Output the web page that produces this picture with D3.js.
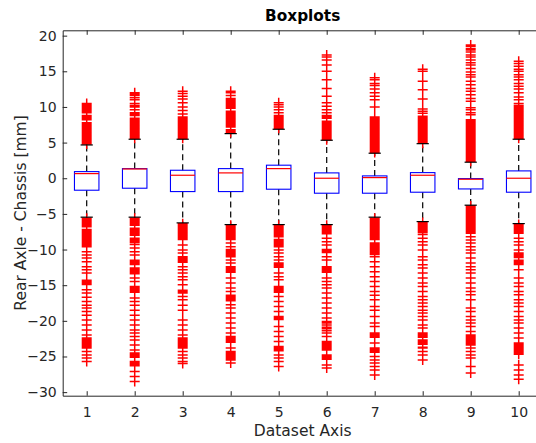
<!DOCTYPE html>
<html>
<head>
<meta charset="utf-8">
<script src="https://cdn.jsdelivr.net/npm/d3@7"></script>
<style>
  html, body { margin: 0; padding: 0; background: #fff; }
  svg { display: block; font-family: "DejaVu Sans", sans-serif; }
</style>
</head>
<body>
<svg id="chart" width="536" height="443"></svg>
<script>
// Dataset labels along the x axis
const categories = ["1", "2", "3", "4", "5", "6", "7", "8", "9", "10"];

// Box statistics per dataset (mm)
const q3 = [0.93, 1.35, 1.12, 1.35, 1.83, 0.75, 0.33, 0.79, -0.05, 1.03];
const medians = [0.65, 1.3, 0.42, 0.75, 1.35, 0.0, 0.09, 0.42, -0.14, 0.0];
const q1 = [-1.68, -1.40, -1.87, -1.87, -1.54, -2.10, -2.10, -1.96, -1.50, -1.96];
const whiskerHigh = [4.67, 5.47, 5.47, 6.26, 6.87, 5.33, 3.51, 4.85, 2.25, 5.47];
const whiskerLow = [-5.46, -5.46, -6.26, -6.50, -6.50, -6.50, -5.46, -6.08, -3.78, -6.36];

// Outliers above the upper whisker, one list per dataset
const outliersHigh = [
  [4.8,5,5.2,5.4,5.6,5.8,6,6.2,6.4,6.6,6.8,7,7.2,7.4,7.6,7.8,8.2,8.4,8.6,8.8,9.2,9.4,9.6,9.8,10,10.2,10.4,10.5],
  [5.6,5.8,6,6.2,6.4,6.6,6.8,7,7.2,7.4,7.6,7.8,8,8.2,8.4,8.8,9,9.2,9.6,10,10.2,10.5,11,11.3,11.6,11.8,12],
  [5.6,5.8,6,6.2,6.4,6.6,6.8,7,7.2,7.4,7.6,7.8,8,8.2,8.4,8.6,9,9.5,10,10.6,11.1,11.5,11.9,12.2],
  [6.4,6.6,6.8,7.2,7.4,7.6,7.8,8,8.2,8.4,8.6,8.8,9,9.2,9.4,9.8,10,10.2,10.4,10.6,10.8,11,11.2,11.6,12,12.2],
  [7,7.2,7.4,7.6,7.8,8,8.2,8.4,8.6,8.8,9.2,9.6,10,10.3,10.6],
  [5.4,5.6,5.8,6,6.2,6.4,6.6,6.8,7,7.2,7.4,7.6,7.8,8,8.4,8.6,8.8,9.2,9.6,10.1,10.6,11.5,12.6,13.8,15,15.9,16.6,17,17.3],
  [3.6,3.8,4,4.2,4.4,4.6,4.8,5,5.2,5.4,5.6,5.8,6,6.2,6.4,6.6,6.8,7,7.2,7.4,7.6,7.8,8,8.2,8.4,8.6,10,11,11.5,12,12.5,13,13.3,13.8,14.1],
  [4.9,5.1,5.3,5.5,5.7,5.9,6.1,6.3,6.5,6.7,6.9,7.1,7.3,7.5,7.7,7.9,8.1,8.3,8.5,8.7,9.1,9.4,9.7,11.1,12.4,13.6,15,15.3],
  [2.4,2.6,2.8,3,3.2,3.4,3.6,3.8,4,4.2,4.4,4.6,4.8,5,5.2,5.4,5.6,5.8,6,6.2,6.4,6.6,6.8,7,7.2,7.4,7.6,7.8,8,8.2,
   8.9,9.2,9.6,9.9,10.8,11.2,11.7,12.2,12.6,13.1,13.6,14.2,14.5,14.9,15.4,15.9,16.2,16.6,17,17.3,17.7,18,18.2,18.5,18.7],
  [5.6,5.8,6,6.2,6.4,6.6,6.8,7,7.2,7.4,7.6,7.8,8,8.2,8.4,8.6,8.8,9,9.2,9.4,9.6,9.8,10,10.2,
   10.5,11,11.4,12,12.5,12.9,13.3,13.8,14.2,14.5,15,15.3,15.7,16.1,16.4]
];

// Outliers below the lower whisker, one list per dataset
const outliersLow = [
  [-5.6,-5.8,-6,-6.2,-6.4,-6.6,-6.8,-7.2,-7.4,-7.6,-7.8,-8,-8.2,-8.4,-8.6,-8.8,-9,-9.2,-9.4,-9.6,
   -10.3,-10.75,-11.2,-11.7,-12.4,-12.85,-13.3,-14.3,-14.5,-14.7,-14.9,-15.65,-16.1,-16.7,-17.3,-17.8,-18.2,-18.7,-19.2,-19.9,-20.6,-21.3,-22,
   -22.4,-22.6,-22.8,-23,-23.2,-23.4,-23.6,-23.8,-24.3,-24.8,-25.2,-25.7],
  [-5.6,-5.8,-6,-6.2,-6.4,-6.6,-7,-7.2,-7.4,-7.6,-7.8,-8,-8.4,-8.6,-8.8,-9,-9.3,
   -9.8,-10.3,-10.75,-11.5,-11.7,-11.9,-12.1,-12.6,-12.8,-13,-13.2,-13.4,-14,-14.5,-15.2,-15.4,-15.6,-15.8,-16,
   -16.8,-17.3,-17.8,-18.5,-19.2,-19.9,-20.6,-21.3,-21.7,-22.2,-22.7,-23.4,-24.1,-24.5,-24.7,-24.9,-25.1,
   -25.7,-25.9,-26.1,-26.3,-27.1,-27.8,-28.5],
  [-6.4,-6.6,-6.8,-7,-7.2,-7.4,-7.6,-7.8,-8,-8.2,-8.4,-8.6,-9.35,-10.05,-10.5,-11,-11.2,-11.4,-11.6,-11.8,
   -12.4,-12.85,-13.3,-13.8,-14.25,-14.95,-15.7,-15.9,-16.1,-16.6,-17.05,-17.8,-18.5,-19.9,-20.6,-21.3,-22,
   -22.4,-22.6,-22.8,-23,-23.2,-23.4,-23.6,-23.8,-24.3,-24.8,-25.2,-25.7,-26],
  [-6.6,-6.8,-7,-7.2,-7.4,-7.6,-7.8,-8,-8.2,-8.4,-8.6,-9.1,-9.6,-10,-10.2,-10.4,-10.6,-10.8,-11,-11.45,-11.9,
   -12.4,-12.6,-12.8,-13,-13.2,-14,-14.7,-15.4,-15.9,-16.4,-16.6,-16.8,-17,-17.2,-17.75,-18.2,-18.9,-19.6,-20.3,-21,-21.7,
   -22.2,-22.4,-22.6,-22.8,-23,-23.8,-24.3,-24.5,-24.7,-24.9,-25.1,-25.3,-25.5,-25.9],
  [-6.6,-6.8,-7,-7.2,-7.4,-7.6,-7.8,-8,-8.2,-8.6,-8.8,-9,-9.2,-9.4,-9.6,-10.05,-10.5,-11,-11.45,-11.9,-12.1,-12.3,-12.5,
   -13.3,-13.8,-14.25,-15.2,-15.4,-15.6,-15.8,-16,-16.6,-17.3,-18,-18.7,-19.4,-19.6,-19.8,-20.8,-21.5,-22.2,-22.9,
   -23.6,-23.8,-24,-24.2,-24.8,-25.2,-25.7,-26.4],
  [-6.6,-6.8,-7,-7.2,-7.4,-7.6,-7.8,-8.4,-8.9,-9.35,-10,-10.2,-10.4,-11,-11.45,-12.4,-12.6,-12.8,-13,-13.2,
   -14,-14.5,-14.95,-15.4,-16.1,-16.8,-17.5,-18.2,-18.9,-19.6,-20.1,-20.3,-20.6,-20.9,-21.1,-21.4,-21.7,-22.2,
   -22.9,-23.1,-23.3,-23.5,-23.7,-23.9,-24.1,-24.8,-25,-25.2,-25.4,-26.2,-26.6],
  [-5.6,-5.8,-6,-6.2,-6.4,-6.6,-6.8,-7,-7.2,-7.4,-7.6,-7.8,-8,-8.2,-8.4,-8.6,-9.1,-9.3,-9.5,-9.7,-9.9,-10.1,-10.3,-10.5,-10.7,-11,
   -11.7,-12.4,-13.1,-13.8,-14.5,-15.2,-15.9,-16.4,-17.05,-18,-18.5,-19.4,-20.3,-20.8,-21.7,-21.9,-22.1,-22.3,-23.1,
   -23.8,-24,-24.2,-24.4,-25,-25.5,-25.9,-26.4,-26.9,-27.6],
  [-6.2,-6.4,-6.6,-6.8,-7,-7.2,-7.4,-7.6,-7.9,-8.4,-8.9,-9.35,-10.05,-11,-11.45,-12.15,-12.6,-13.3,-14,-14.7,-15.2,-15.9,
   -16.6,-17.05,-17.5,-18,-18.5,-18.9,-19.4,-19.9,-20.6,-21,-21.7,-21.9,-22.1,-22.3,-22.7,-22.9,-23.1,-23.3,-23.7,-23.8,
   -24.3,-24.8,-25.5],
  [-3.9,-4.1,-4.3,-4.5,-4.7,-4.9,-5.1,-5.3,-5.5,-5.7,-5.9,-6.1,-6.3,-6.5,-6.7,-6.9,-7.1,-7.3,-7.5,-7.7,
   -8.2,-8.65,-9.1,-9.6,-10.05,-10.5,-11.2,-11.9,-12.4,-12.85,-13.3,-14,-14.7,-15.4,-15.9,-16.35,-17.05,-18.2,-18.7,
   -19.4,-19.9,-20.3,-20.8,-21.5,-22,-22.2,-22.4,-22.6,-22.8,-23,-23.2,-23.4,-23.8,-24.3,-24.8,-25.2,-26.4,-27.3],
  [-6.5,-6.7,-6.9,-7.1,-7.3,-7.5,-7.7,-8.4,-8.9,-9.35,-10.05,-10.5,-10.7,-10.9,-11.1,-11.5,-11.7,-11.9,-12.1,
   -12.85,-14,-14.7,-15.2,-15.9,-16.35,-17.05,-17.5,-18,-18.7,-19.4,-19.9,-20.3,-21,-21.7,-22.4,
   -23.1,-23.3,-23.5,-23.7,-23.9,-24.1,-24.3,-24.5,-24.7,-26.2,-26.9,-27.6,-28.2]
];

// Axis tick values
const yTicks = [-30, -25, -20, -15, -10, -5, 0, 5, 10, 15, 20];
const xTicks = [1, 2, 3, 4, 5, 6, 7, 8, 9, 10];

const svg = d3.select("#chart");
const axisColor = "#262626";

const x = d3.scaleLinear().domain([0.5, 10.5]).range([62.7, 542.7]);
const y = d3.scaleLinear().domain([-30.5, 20.75]).range([395.7, 30.3]);

const boxWidth = 0.51;                      // box width in dataset units
const boxHalf = (x(1 + boxWidth) - x(1)) / 2;
const capHalf = boxHalf / 2;
const mark = 5;                             // half-size of a '+' marker, px

// Axes (ticks point inward, box-style frame)
const gLeft = svg.append("g").attr("transform", `translate(${x(0.5)},0)`)
  .call(d3.axisLeft(y).tickValues(yTicks).tickSizeInner(-4.5).tickSizeOuter(0).tickPadding(6));
const gBottom = svg.append("g").attr("transform", `translate(0,${y(-30.5)})`)
  .call(d3.axisBottom(x).tickValues(xTicks).tickFormat((d, i) => categories[i]).tickSizeInner(-4.5).tickSizeOuter(0).tickPadding(11));
const gTop = svg.append("g").attr("transform", `translate(0,${y(20.75)})`)
  .call(d3.axisTop(x).tickValues(xTicks).tickFormat("").tickSizeInner(-4.5).tickSizeOuter(0));

[gLeft, gBottom, gTop].forEach(g => {
  g.selectAll(".domain").attr("stroke", axisColor).attr("stroke-width", 1);
  g.selectAll(".tick line").attr("stroke", axisColor).attr("stroke-width", 1);
  g.selectAll(".tick text").attr("fill", axisColor).attr("font-size", 14).attr("font-family", "DejaVu Sans, sans-serif");
});

const plot = svg.append("g");
const idx = d3.range(categories.length);

// Whiskers (dashed)
plot.selectAll("line.wh-up").data(idx).join("line")
  .attr("x1", i => x(i + 1)).attr("x2", i => x(i + 1))
  .attr("y1", i => y(q3[i])).attr("y2", i => y(whiskerHigh[i]))
  .attr("stroke", "#000").attr("stroke-width", 1.2).attr("stroke-dasharray", "6,4");
plot.selectAll("line.wh-dn").data(idx).join("line")
  .attr("x1", i => x(i + 1)).attr("x2", i => x(i + 1))
  .attr("y1", i => y(q1[i])).attr("y2", i => y(whiskerLow[i]))
  .attr("stroke", "#000").attr("stroke-width", 1.2).attr("stroke-dasharray", "6,4");

// Boxes
plot.selectAll("rect.box").data(idx).join("rect")
  .attr("x", i => x(i + 1) - boxHalf).attr("width", boxHalf * 2)
  .attr("y", i => y(q3[i])).attr("height", i => y(q1[i]) - y(q3[i]))
  .attr("fill", "none").attr("stroke", "#0000ff").attr("stroke-width", 1.1);

// Medians
plot.selectAll("line.med").data(idx).join("line")
  .attr("x1", i => x(i + 1) - boxHalf).attr("x2", i => x(i + 1) + boxHalf)
  .attr("y1", i => y(medians[i])).attr("y2", i => y(medians[i]))
  .attr("stroke", "#ff0000").attr("stroke-width", 1.2);

// Outliers as '+' markers
const pts = [];
idx.forEach(i => {
  outliersHigh[i].forEach(v => pts.push([i + 1, v]));
  outliersLow[i].forEach(v => pts.push([i + 1, v]));
});
plot.append("path")
  .attr("d", pts.map(([c, v]) => {
    const px = x(c), py = y(v);
    return `M${px - mark},${py}H${px + mark}M${px},${py - mark}V${py + mark}`;
  }).join(""))
  .attr("fill", "none").attr("stroke", "#ff0000").attr("stroke-width", 1.5);

// Whisker caps
plot.selectAll("line.cap-up").data(idx).join("line")
  .attr("x1", i => x(i + 1) - capHalf).attr("x2", i => x(i + 1) + capHalf)
  .attr("y1", i => y(whiskerHigh[i])).attr("y2", i => y(whiskerHigh[i]))
  .attr("stroke", "#000").attr("stroke-width", 1.2);
plot.selectAll("line.cap-dn").data(idx).join("line")
  .attr("x1", i => x(i + 1) - capHalf).attr("x2", i => x(i + 1) + capHalf)
  .attr("y1", i => y(whiskerLow[i])).attr("y2", i => y(whiskerLow[i]))
  .attr("stroke", "#000").attr("stroke-width", 1.2);

// Title and axis labels
svg.append("text").attr("x", x(5.5)).attr("y", 20.5).attr("text-anchor", "middle")
  .attr("font-size", 15.3).attr("font-weight", "bold").attr("fill", "#000").text("Boxplots");
svg.append("text").attr("x", x(5.5)).attr("y", 436).attr("text-anchor", "middle")
  .attr("font-size", 15.5).attr("fill", axisColor).text("Dataset Axis");
svg.append("text").attr("transform", `translate(25.5,${(y(20.75) + y(-30.5)) / 2}) rotate(-90)`)
  .attr("text-anchor", "middle").attr("font-size", 15.5).attr("fill", axisColor)
  .text("Rear Axle - Chassis [mm]");
</script>
</body>
</html>
